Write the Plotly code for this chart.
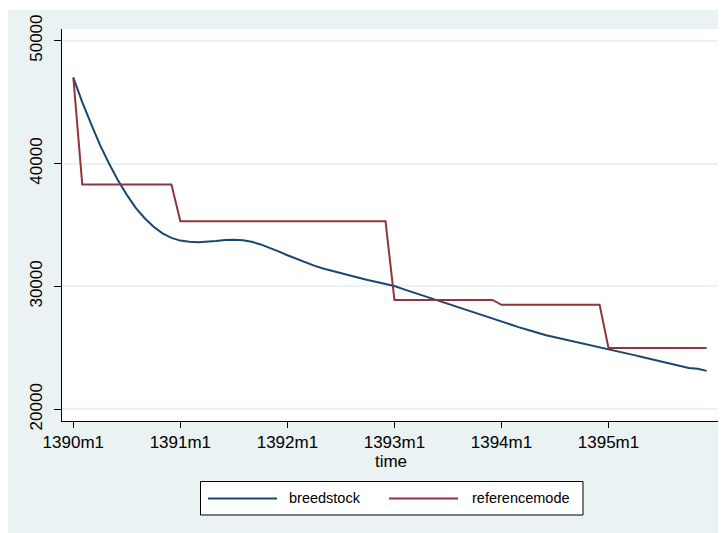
import plotly.graph_objects as go

# Data (monthly, 1390m1 .. 1395m12)
month_index = list(range(72))
tick_positions = [0, 12, 24, 36, 48, 60]
tick_labels = ["1390m1", "1391m1", "1392m1", "1393m1", "1394m1", "1395m1"]
y_ticks = [20000, 30000, 40000, 50000]
y_tick_labels = ["20000", "30000", "40000", "50000"]

breedstock = [
    47000, 45000, 43200, 41500, 40000, 38650, 37450, 36400, 35550, 34850,
    34320, 33950, 33730, 33630, 33600, 33630, 33700, 33770, 33800, 33760,
    33630, 33420, 33150, 32850, 32540, 32240, 31960, 31690, 31460, 31260,
    31080, 30900, 30710, 30530, 30360, 30190, 30030, 29780, 29540, 29300,
    29060, 28820, 28580, 28330, 28090, 27840, 27600, 27350, 27110, 26890,
    26670, 26460, 26240, 26030, 25870, 25710, 25560, 25400, 25250, 25090,
    24930, 24750, 24570, 24390, 24210, 24030, 23860, 23700, 23540, 23360,
    23300, 23130,
]
referencemode = (
    [47000]
    + [38300] * 11
    + [35300] * 24
    + [28900] * 12
    + [28500] * 12
    + [25000] * 12
)

NAVY = "#1A476F"
MAROON = "#90353B"
BG = "#EAF2F3"
FONT = "Liberation Sans, Arial, sans-serif"

fig = go.Figure()
fig.add_trace(go.Scatter(x=month_index, y=breedstock, mode="lines", name="breedstock",
                         line=dict(color=NAVY, width=2)))
fig.add_trace(go.Scatter(x=month_index, y=referencemode, mode="lines", name="referencemode",
                         line=dict(color=MAROON, width=2)))

OFF = 8  # page body margin
W, H = 718, 525
L, R, T, B = 54, 6, 21, 112

def px(page_x):
    return (page_x - OFF - L) / (W - L - R)

def py(page_y):
    return 1 - (page_y - OFF - T) / (H - T - B)

shapes = [
    # thin white strip at top of graph region
    dict(type="rect", xref="paper", yref="paper", x0=px(0), x1=px(740), y0=py(10), y1=py(0),
         fillcolor="white", line=dict(width=0), layer="below"),
    # plot region
    dict(type="rect", xref="paper", yref="paper", x0=0, x1=1, y0=0, y1=1,
         fillcolor="white", line=dict(width=0), layer="below"),
    # legend box
    dict(type="rect", xref="paper", yref="paper", x0=px(200.5), x1=px(583), y0=py(481.5), y1=py(515),
         fillcolor="white", line=dict(color="black", width=1)),
    dict(type="line", xref="paper", yref="paper", x0=px(208), x1=px(277), y0=py(498.5), y1=py(498.5),
         line=dict(color=NAVY, width=2)),
    dict(type="line", xref="paper", yref="paper", x0=px(389), x1=px(458), y0=py(498.5), y1=py(498.5),
         line=dict(color=MAROON, width=2)),
]

annotations = [
    dict(text="breedstock", xref="paper", yref="paper", x=px(287), y=py(498.5),
         xanchor="left", yanchor="middle", showarrow=False, font=dict(size=14.5, color="black", family=FONT)),
    dict(text="referencemode", xref="paper", yref="paper", x=px(470), y=py(498.5),
         xanchor="left", yanchor="middle", showarrow=False, font=dict(size=14.5, color="black", family=FONT)),
]

fig.update_layout(
    width=W, height=H,
    margin=dict(l=L, r=R, t=T, b=B, pad=0, autoexpand=False),
    paper_bgcolor=BG,
    plot_bgcolor="white",
    showlegend=False,
    font=dict(family=FONT, color="black"),
    shapes=shapes,
    annotations=annotations,
)

fig.update_xaxes(
    range=[-1.27, 72.5],
    tickmode="array", tickvals=tick_positions, ticktext=tick_labels,
    ticks="outside", ticklen=6, tickcolor="black", tickwidth=1,
    showline=True, linecolor="black", linewidth=1,
    showgrid=False, zeroline=False, automargin=False,
    tickfont=dict(size=17, family=FONT, color="black"),
    title=dict(text="time", font=dict(size=17, family=FONT, color="black"), standoff=2),
)
fig.update_yaxes(
    range=[19050, 50950],
    tickmode="array", tickvals=y_ticks, ticktext=y_tick_labels,
    ticks="outside", ticklen=7, tickcolor="black", tickwidth=1,
    showline=True, linecolor="black", linewidth=1,
    showgrid=True, gridcolor=BG, gridwidth=1.5,
    zeroline=False, automargin=False,
    tickangle=-90, ticklabelstandoff=5,
    tickfont=dict(size=17, family=FONT, color="black"),
)

fig.write_html("out.html")
